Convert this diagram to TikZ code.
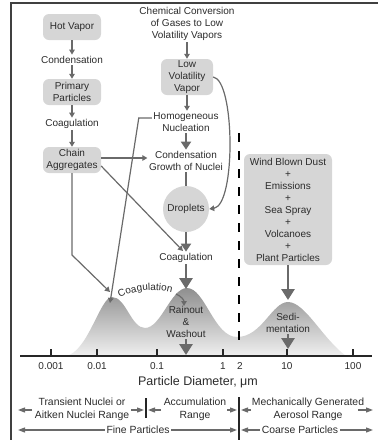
\documentclass[tikz,border=0pt]{standalone}
\usepackage{fontspec}
\setmainfont{Liberation Sans}
\usetikzlibrary{arrows.meta,decorations.text}
\definecolor{txt}{HTML}{2B2B2B}
\definecolor{agray}{HTML}{6A6A6A}
\definecolor{boxgray}{HTML}{D6D6D6}
\begin{document}
\begin{tikzpicture}[x=1pt,y=-1pt,
  every node/.style={font=\fontsize{10}{12}\selectfont, text=txt},
  box/.style={rounded corners=6pt, fill=boxgray, align=center, inner sep=1.5pt, minimum width=58pt, minimum height=26pt},
  lbl/.style={align=center, inner sep=1.5pt},
  blbl/.style={align=center, inner sep=1.5pt, font=\fontsize{10.4}{13}\selectfont},
  arr/.style={draw=agray, line width=1.2pt, -{Triangle[length=5pt,width=5.5pt]}},
  mid/.style={draw=agray, line width=2pt, -{Triangle[length=8pt,width=10pt]}},
  big/.style={draw=agray, line width=2.8pt, -{Triangle[length=11pt,width=13pt]}},
  sarr/.style={draw=agray, line width=1.2pt, -{Triangle[length=7pt,width=5pt]}},
  plain/.style={draw=agray, line width=1.2pt},
  bar/.style={draw=black!85, line width=1.3pt}]
\useasboundingbox (0,0) rectangle (378,440);

% frame
\coordinate (fa) at (11,440); \coordinate (fb) at (11,3); \coordinate (fc) at (378,3);
\draw[line width=1.3pt, draw=black!75] (fa) -- (fb) -- (fc);

% size distribution
\shade[top color=black!44, middle color=black!32, bottom color=black!6]
 (66,356) .. controls (88,352) and (100,297) .. (112,297)
 .. controls (126,297) and (131,328) .. (145,328)
 .. controls (161,328) and (171,288) .. (187,288)
 .. controls (205,288) and (214,337) .. (237,337)
 .. controls (262,337) and (272,302) .. (288,302)
 .. controls (305,302) and (322,338) .. (346,356) -- cycle;

% dashed divider
\coordinate (dtop) at (239,133); \coordinate (dbot) at (239,346);
\draw[line width=1.7pt, dash pattern=on 8.5pt off 9.5pt] (dtop) -- (dbot);

% left column
\node[box] (hot) at (72,27) {Hot Vapor};
\node[lbl] (cond) at (72,60) {Condensation};
\node[box] (prim) at (72,92) {Primary\\Particles};
\node[lbl] (coag1) at (72,124) {Coagulation};
\node[box] (chain) at (72,160) {Chain\\Aggregates};

% middle column
\node[lbl] (chem) at (187,24) {Chemical Conversion\\of Gases to Low\\Volatility Vapors};
\node[box, minimum width=52pt, minimum height=36pt] (lowvol) at (187,77) {Low\\Volatility\\Vapor};
\node[lbl] (homog) at (186,122) {Homogeneous\\Nucleation};
\node[lbl] (growth) at (186,161) {Condensation\\Growth of Nuclei};
\node[circle, fill=boxgray, minimum size=46pt, inner sep=0pt] (drop) at (186,209) {Droplets};
\node[lbl] (coag2) at (186,258) {Coagulation};
\node[lbl] (rain) at (186,322) {Rainout\\\&\\Washout};

% right column
\node[box, minimum width=88pt, minimum height=111pt, inner ysep=2pt] (wind) at (288,209.5) {Wind Blown Dust\\+\\Emissions\\+\\Sea Spray\\+\\Volcanoes\\+\\Plant Particles};
\node[lbl] (sedi) at (288,323) {Sedi-\\mentation};

% flow arrows
\draw[arr] (hot) -- (cond);
\draw[arr] (cond) -- (prim);
\draw[arr] (prim) -- (coag1);
\draw[arr] (coag1) -- (chain);
\draw[arr] (chem) -- (lowvol);
\draw[arr] (lowvol.south) -- (lowvol.south |- homog.north);
\draw[mid] (homog) -- (growth);
\draw[plain] (growth) -- (drop);
\draw[mid] (drop) -- (coag2);
\draw[arr] (lowvol.east) .. controls (235,80) and (236,205) .. (drop.east);

\coordinate (pk2) at (186,289);
\coordinate (pk3) at (288,300);
\coordinate (ax1) at (186,355);
\coordinate (ax2) at (288,349);
\draw[big] (coag2) -- (pk2);
\draw[big] (wind) -- (pk3);
\draw[big] (rain) -- (ax1);
\draw[big] (sedi) -- (ax2);

% chain aggregate arrows
\draw[arr] ([yshift=2pt]chain.east) -- ([yshift=2pt]chain.east -| growth.west);
\coordinate (c2in) at (183,251);
\draw[arr] ([yshift=-6pt]chain.east) -- (c2in);
\coordinate (bend) at (72,255);
\coordinate (pk1) at (110,292);
\draw[arr] (chain.south) -- (bend) -- (pk1);
\coordinate (hn) at (110,303);
\draw[arr] ([yshift=4pt]homog.west) -- ++(-13,0) -- (hn);

% coagulation along the humps
\coordinate (ca) at (116,300);
\coordinate (cb) at (176,294);
\coordinate (cc) at (184,306);
\path[decorate, decoration={text along path, text align=center,
  text={|\fontsize{10}{12}\selectfont\color{txt}|Coagulation}}]
  (ca) .. controls (133,289) and (158,288) .. (cb);
\draw[arr] (cb) .. controls (181,296) and (184,300) .. (cc);

% axis
\coordinate (axL) at (20,356); \coordinate (axR) at (372,356);
\draw[line width=1.5pt, draw=black!85] (axL) -- (axR);
\foreach \x/\l in {51/0.001, 97/0.01, 157/0.1, 223/1, 287/10, 353/100}{
  \draw[line width=1.3pt, draw=black!85] (\x,349) -- (\x,356);
  \node[lbl] (t\x) at (\x,366) {\l};
}
\node[lbl] (t2) at (240,366) {2};
\node[lbl, font=\fontsize{12.5}{14}\selectfont] (axt) at (198,382) {Particle Diameter, μm};

% ranges
\node[blbl] (trans) at (82,409) {Transient Nuclei or\\Aitken Nuclei Range};
\node[blbl] (accum) at (195,409) {Accumulation\\Range};
\node[blbl] (mech) at (308,409) {Mechanically Generated\\Aerosol Range};
\node[blbl] (fine) at (138,430) {Fine Particles};
\node[blbl] (coarse) at (300,430) {Coarse Particles};

\coordinate (b1t) at (146,398); \coordinate (b1b) at (146,418);
\coordinate (b2t) at (239,397); \coordinate (b2b) at (239,440);
\draw[bar] (b1t) -- (b1b);
\draw[bar] (b2t) -- (b2b);

\coordinate (r1a) at (32,410);  \coordinate (r1b) at (18,410);
\coordinate (r2a) at (131,410); \coordinate (r2b) at (144,410);
\coordinate (r3a) at (161,410); \coordinate (r3b) at (148,410);
\coordinate (r4a) at (227,410); \coordinate (r4b) at (237,410);
\coordinate (r5a) at (251,410); \coordinate (r5b) at (241,410);
\coordinate (r6a) at (358,410); \coordinate (r6b) at (373,410);
\draw[sarr] (r1a) -- (r1b);
\draw[sarr] (r2a) -- (r2b);
\draw[sarr] (r3a) -- (r3b);
\draw[sarr] (r4a) -- (r4b);
\draw[sarr] (r5a) -- (r5b);
\draw[sarr] (r6a) -- (r6b);

\coordinate (f1) at (18,430); \coordinate (f2) at (237,430);
\coordinate (f3) at (241,430); \coordinate (f4) at (373,430);
\draw[sarr] (fine.west) -- (f1);
\draw[sarr] (fine.east) -- (f2);
\draw[sarr] (coarse.west) -- (f3);
\draw[sarr] (coarse.east) -- (f4);
\end{tikzpicture}
\end{document}
